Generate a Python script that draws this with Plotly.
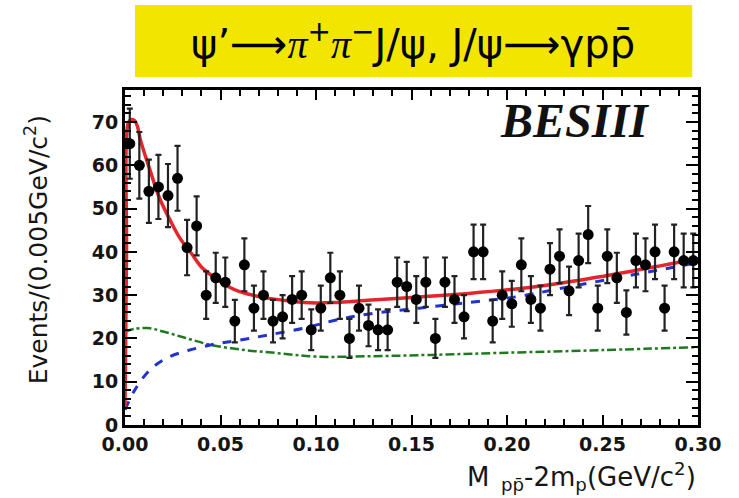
import plotly.graph_objects as go

# ---- data ----
bin_centers = [0.0025 + 0.005 * i for i in range(60)]
counts = [65, 60, 54, 55, 53, 57, 41, 46, 30, 34,
          33, 24, 37, 27, 30, 24, 25, 29, 30, 22,
          27, 34, 30, 20, 27, 23, 22, 22, 33, 32,
          29, 33, 20, 33, 29, 25, 40, 40, 24, 30,
          28, 37, 29, 27, 36, 39, 31, 38, 44, 27,
          39, 34, 26, 38, 37, 40, 27, 40, 38, 38]
errors = [8.1, 7.7, 7.3, 7.4, 7.3, 7.5, 6.4, 6.8, 5.5, 5.8,
          5.7, 4.9, 6.1, 5.2, 5.5, 4.9, 5.0, 5.4, 5.5, 4.7,
          5.2, 5.8, 5.5, 4.5, 5.2, 4.8, 4.7, 4.7, 5.7, 5.7,
          5.4, 5.7, 4.5, 5.7, 5.4, 5.0, 6.3, 6.3, 4.9, 5.5,
          5.3, 6.1, 5.4, 5.2, 6.0, 6.2, 5.6, 6.2, 6.6, 5.2,
          6.2, 5.8, 5.1, 6.2, 6.1, 6.3, 5.2, 6.3, 6.2, 6.2]

total_x = [0, 0.0008, 0.0015, 0.003, 0.005, 0.0065, 0.008, 0.013, 0.018, 0.024, 0.029, 0.035,
           0.040, 0.047, 0.054, 0.060, 0.071, 0.087, 0.100, 0.110, 0.127, 0.154,
           0.180, 0.206, 0.231, 0.266, 0.300]
total_y = [4, 40, 69.5, 70.5, 70.3, 69, 66, 59, 52.5, 47, 43, 39.5,
           36.5, 34, 32, 30.8, 29.6, 28.6, 28.2, 28.3, 28.8, 29.6,
           30.4, 31.5, 33, 35.6, 38.4]

bkg_x = [0, 0.005, 0.013, 0.022, 0.033, 0.047, 0.060, 0.075, 0.094, 0.110, 0.127,
         0.154, 0.180, 0.206, 0.231, 0.266, 0.300]
bkg_y = [3.5, 8, 12.7, 15.5, 17.2, 18.7, 19.6, 20.8, 22.4, 24.2, 25.6,
         27, 28.3, 29.7, 31.8, 34.7, 37.5]

ps_x = [0, 0.005, 0.012, 0.020, 0.031, 0.045, 0.063, 0.080, 0.100, 0.130, 0.160,
        0.200, 0.250, 0.300]
ps_y = [21.5, 22.2, 22.4, 21.6, 20.2, 18.5, 17.3, 16.6, 15.8, 15.9, 16.2,
        16.7, 17.3, 18.0]

x_ticks = [0.00, 0.05, 0.10, 0.15, 0.20, 0.25, 0.30]
x_tick_labels = ["0.00", "0.05", "0.10", "0.15", "0.20", "0.25", "0.30"]
y_ticks = [0, 10, 20, 30, 40, 50, 60, 70]

fig = go.Figure()

fig.add_trace(go.Scatter(x=ps_x, y=ps_y, mode="lines", line_shape="spline",
                         line=dict(color="#1f7a1f", width=2.5, dash="dashdot"),
                         hoverinfo="skip", showlegend=False))
fig.add_trace(go.Scatter(x=bkg_x, y=bkg_y, mode="lines", line_shape="spline",
                         line=dict(color="#2233cc", width=3, dash="dash"),
                         hoverinfo="skip", showlegend=False))
fig.add_trace(go.Scatter(x=total_x, y=total_y, mode="lines", line_shape="spline",
                         line=dict(color="#e3262b", width=3.5),
                         hoverinfo="skip", showlegend=False))
fig.add_trace(go.Scatter(x=bin_centers, y=counts, mode="markers",
                         marker=dict(color="black", size=11, symbol="circle"),
                         error_y=dict(type="data", array=errors, color="#222222",
                                      thickness=2.2, width=3),
                         showlegend=False))

axis_font = dict(family="DejaVu Sans, Verdana, sans-serif", size=19, color="#151515", weight="bold")

fig.update_xaxes(range=[0, 0.30], tickvals=x_ticks, ticktext=x_tick_labels,
                 ticks="inside", ticklen=10, tickwidth=2, tickcolor="black",
                 minor=dict(dtick=0.01, ticks="inside", ticklen=6, tickwidth=1.5,
                            tickcolor="black", showgrid=False),
                 showline=True, linecolor="black", linewidth=3, mirror="allticks",
                 showgrid=False, zeroline=False, tickfont=axis_font)
fig.update_yaxes(range=[0, 77.4], tickvals=y_ticks,
                 ticks="inside", ticklen=12, tickwidth=2, tickcolor="black",
                 minor=dict(dtick=2, ticks="inside", ticklen=6, tickwidth=1.5,
                            tickcolor="black", showgrid=False),
                 showline=True, linecolor="black", linewidth=3, mirror="allticks",
                 showgrid=False, zeroline=False, tickfont=axis_font)

fig.add_shape(type="rect", xref="paper", yref="paper",
              x0=0.0175, x1=0.99, y0=1.039, y1=1.254,
              fillcolor="#f2e600", line=dict(width=0), layer="below")

serif_pi = "<span style='font-family:Liberation Serif, Times New Roman, serif'><i>π</i></span>"
fig.add_annotation(xref="paper", yref="paper", x=0.503, y=1.146,
                   text=("ψ’⟶" + serif_pi + "<sup>+</sup>" + serif_pi +
                         "<sup>−</sup>J/ψ, J/ψ⟶γpp\u0304"),
                   showarrow=False, xanchor="center", yanchor="middle",
                   font=dict(family="DejaVu Sans, Verdana, sans-serif", size=40, color="black"))

fig.add_annotation(xref="paper", yref="paper", x=0.785, y=0.91,
                   text="<b><i>BESIII</i></b>", showarrow=False,
                   xanchor="center", yanchor="middle",
                   font=dict(family="Liberation Serif, Times New Roman, serif", size=48, color="#111111"))

fig.add_annotation(xref="paper", yref="paper", x=1.0, y=-0.155,
                   text="M<sub>  pp\u0304</sub>-2m<sub>p</sub>(GeV/c<sup>2</sup>)",
                   showarrow=False, xanchor="right", yanchor="middle",
                   font=dict(family="DejaVu Sans, Verdana, sans-serif", size=26, color="#151515"))

fig.add_annotation(xref="paper", yref="paper", x=-0.155, y=0.522,
                   text="Events/(0.005GeV/c<sup>2</sup>)", textangle=-90,
                   showarrow=False, xanchor="center", yanchor="middle",
                   font=dict(family="DejaVu Sans, Verdana, sans-serif", size=25, color="#151515"))

fig.update_layout(width=739, height=498,
                  margin=dict(l=125, r=41, t=90, b=73),
                  paper_bgcolor="white", plot_bgcolor="white")

fig.write_html("out.html")
